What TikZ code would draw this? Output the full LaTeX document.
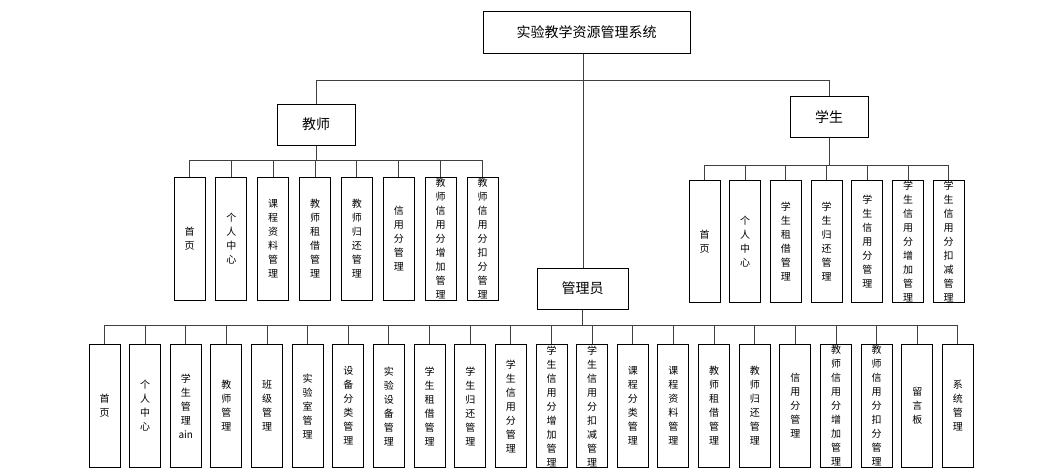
\documentclass[tikz,border=0pt]{standalone}
\usepackage{fontspec}
\setmainfont{Noto Sans CJK SC}
\begin{document}
\begin{tikzpicture}[x=1pt,y=-1pt,
  hdr/.style={draw=black,line width=1pt,minimum width=78pt,minimum height=41pt,font=\fontsize{14}{16}\selectfont,inner sep=0pt},
  leaf/.style={draw=black,line width=1pt,minimum width=31pt,minimum height=123pt,font=\fontsize{10}{14}\selectfont,align=center,inner sep=0pt,anchor=north},
  ln/.style={draw=black!75,line width=1pt}]
\useasboundingbox (0,0) rectangle (1051,472);
\node[hdr,minimum width=207pt,minimum height=42pt] (root) at (586.5,32) {实验教学资源管理系统};
\node[hdr] (t) at (316,124.5) {教师};
\node[hdr] (s) at (829,117) {学生};
\node[hdr,minimum width=91pt] (a) at (582.5,288.5) {管理员};
\coordinate (rb) at (583,80);
\draw[ln] (root.south -| rb) -- (a.north -| rb);
\draw[ln] (t.north) -- (t.north |- rb) -- (s.north |- rb) -- (s.north);
% teacher
\foreach \i/\txt in {0/首\\页,1/个\\人\\中\\心,2/课\\程\\资\\料\\管\\理,3/教\\师\\租\\借\\管\\理,4/教\\师\\归\\还\\管\\理,5/信\\用\\分\\管\\理,6/教\\师\\信\\用\\分\\增\\加\\管\\理,7/教\\师\\信\\用\\分\\扣\\分\\管\\理}{
  \node[leaf] (t\i) at ({189.5+41.86*\i},177) {\txt};
  \draw[ln] (t\i.north) -- ++(0,-17);}
\draw[ln] ([yshift=17pt]t0.north) -- ([yshift=17pt]t7.north);
\draw[ln] (t.south) -- (t.south |- 0,160);
% student
\foreach \i/\txt in {0/首\\页,1/个\\人\\中\\心,2/学\\生\\租\\借\\管\\理,3/学\\生\\归\\还\\管\\理,4/学\\生\\信\\用\\分\\管\\理,5/学\\生\\信\\用\\分\\增\\加\\管\\理,6/学\\生\\信\\用\\分\\扣\\减\\管\\理}{
  \node[leaf,minimum height=122pt] (s\i) at ({704.5+40.7*\i},180) {\txt};
  \draw[ln] (s\i.north) -- ++(0,-15);}
\draw[ln] ([yshift=15pt]s0.north) -- ([yshift=15pt]s6.north);
\draw[ln] (s.south) -- (s.south |- 0,165);
% admin
\foreach \i/\txt in {0/首\\页,1/个\\人\\中\\心,2/学\\生\\管\\理\\ain,3/教\\师\\管\\理,4/班\\级\\管\\理,5/实\\验\\室\\管\\理,6/设\\备\\分\\类\\管\\理,7/实\\验\\设\\备\\管\\理,8/学\\生\\租\\借\\管\\理,9/学\\生\\归\\还\\管\\理,10/学\\生\\信\\用\\分\\管\\理,11/学\\生\\信\\用\\分\\增\\加\\管\\理,12/学\\生\\信\\用\\分\\扣\\减\\管\\理,13/课\\程\\分\\类\\管\\理,14/课\\程\\资\\料\\管\\理,15/教\\师\\租\\借\\管\\理,16/教\\师\\归\\还\\管\\理,17/信\\用\\分\\管\\理,18/教\\师\\信\\用\\分\\增\\加\\管\\理,19/教\\师\\信\\用\\分\\扣\\分\\管\\理,20/留\\言\\板,21/系\\统\\管\\理}{
  \node[leaf] (a\i) at ({104.5+40.64*\i},344) {\txt};
  \draw[ln] (a\i.north) -- ++(0,-19);}
\draw[ln] ([yshift=19pt]a0.north) -- ([yshift=19pt]a21.north);
\draw[ln] (a.south) -- (a.south |- 0,325);
\end{tikzpicture}
\end{document}
